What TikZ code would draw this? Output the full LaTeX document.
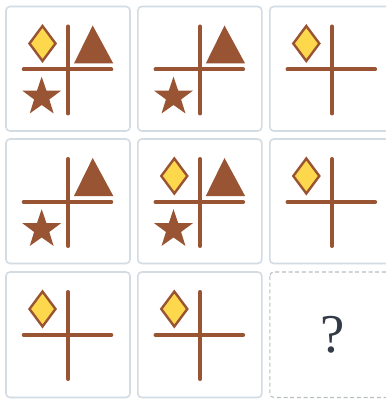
\documentclass[tikz,border=0pt]{standalone}
\usepackage{fontspec}
\newfontfamily\qfont{Liberation Serif}
\usetikzlibrary{shapes.geometric}
\definecolor{brownc}{HTML}{985433}
\definecolor{yellowc}{HTML}{FDD84C}
\definecolor{cellborder}{HTML}{D3DBE3}
\definecolor{dashborder}{HTML}{B8BDC2}
\definecolor{qmark}{HTML}{333B47}
\tikzset{
  x=0.75pt, y=-0.75pt,
  cellbox/.style={draw=cellborder, line width=1.2pt, rounded corners=3pt, fill=white},
  qbox/.style={draw=dashborder, line width=0.8pt, dashed, dash pattern=on 3pt off 2pt, rounded corners=3pt},
  crossline/.style={draw=brownc, line width=3pt, line cap=round},
  diastyle/.style={draw=brownc, fill=yellowc, line width=1.8pt},
  trifill/.style={fill=brownc},
  starnode/.style={star, star points=5, star point ratio=2.55, fill=brownc, minimum size=30.5pt, inner sep=0pt},
  crosspic/.pic={
    \draw[crossline] (62.3,20) -- (62.3,107);
    \draw[crossline] (17.7,63) -- (105.3,63);
  },
  diapic/.pic={
    \draw[diastyle] (36.5,19.5) -- (49.5,37) -- (36.5,54.5) -- (23.5,37) -- cycle;
  },
  tripic/.pic={
    \fill[trifill] (86.7,19) -- (107.3,57) -- (68,57) -- cycle;
  },
  starpic/.pic={
    \node[starnode] (-s) at (35.7,90.5) {};
  },
}
\begin{document}
\begin{tikzpicture}
\useasboundingbox (0,0) rectangle (385,399);
% row 1
\draw[cellbox] (6,6.5) rectangle ++(124,124.5);
\pic at (6,6.5) {crosspic}; \pic at (6,6.5) {diapic}; \pic at (6,6.5) {tripic}; \pic (a) at (6,6.5) {starpic};
\draw[cellbox] (137.8,6.5) rectangle ++(124,124.5);
\pic at (137.8,6.5) {crosspic}; \pic at (137.8,6.5) {tripic}; \pic (b) at (137.8,6.5) {starpic};
\draw[cellbox] (269.8,6.5) rectangle ++(124,124.5);
\pic at (269.8,6.5) {crosspic}; \pic at (269.8,6.5) {diapic};
% row 2
\draw[cellbox] (6,139) rectangle ++(124,124.5);
\pic at (6,139) {crosspic}; \pic at (6,139) {tripic}; \pic (c) at (6,139) {starpic};
\draw[cellbox] (137.8,139) rectangle ++(124,124.5);
\pic at (137.8,139) {crosspic}; \pic at (137.8,139) {diapic}; \pic at (137.8,139) {tripic}; \pic (d) at (137.8,139) {starpic};
\draw[cellbox] (269.8,139) rectangle ++(124,124.5);
\pic at (269.8,139) {crosspic}; \pic at (269.8,139) {diapic};
% row 3
\draw[cellbox] (6,272) rectangle ++(124,125.5);
\pic at (6,272) {crosspic}; \pic at (6,272) {diapic};
\draw[cellbox] (137.8,272) rectangle ++(124,125.5);
\pic at (137.8,272) {crosspic}; \pic at (137.8,272) {diapic};
\draw[qbox] (269.8,272) rectangle ++(124,125.5);
\node[text=qmark, font=\qfont\fontsize{41}{44}\selectfont, inner sep=0pt] (q) at (332.5,334.5) {?};
\end{tikzpicture}
\end{document}
